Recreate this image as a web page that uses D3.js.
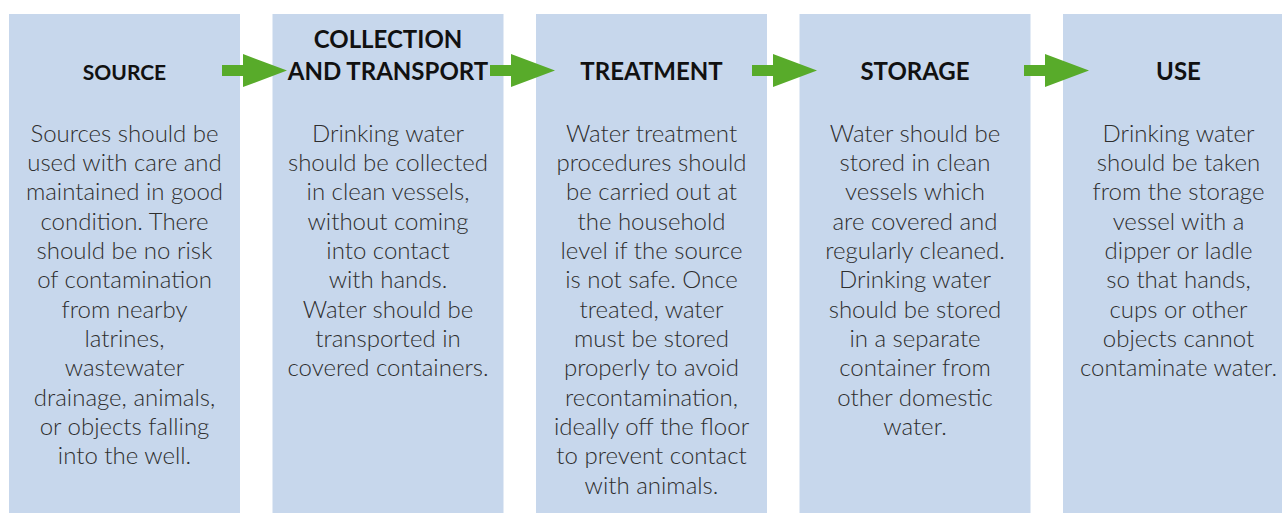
<!DOCTYPE html>
<html>
<head>
<meta charset="utf-8">
<script src="https://cdn.jsdelivr.net/npm/d3@7"></script>
<style>
  html, body { margin: 0; padding: 0; background: #ffffff; }
  svg { display: block; }
</style>
</head>
<body>
<svg id="chart" width="1282" height="513"></svg>
<script>
// ---- data ----
const steps = ["SOURCE", "COLLECTION AND TRANSPORT", "TREATMENT", "STORAGE", "USE"];
const titleLines = [
  ["SOURCE"],
  ["COLLECTION", "AND TRANSPORT"],
  ["TREATMENT"],
  ["STORAGE"],
  ["USE"]
];
const sourceText = ["Sources should be", "used with care and", "maintained in good", "condition. There",
  "should be no risk", "of contamination", "from nearby", "latrines,", "wastewater",
  "drainage, animals,", "or objects falling", "into the well."];
const collectionText = ["Drinking water", "should be collected", "in clean vessels,", "without coming",
  "into contact", "with hands.", "Water should be", "transported in", "covered containers."];
const treatmentText = ["Water treatment", "procedures should", "be carried out at", "the household",
  "level if the source", "is not safe. Once", "treated, water", "must be stored", "properly to avoid",
  "recontamination,", "ideally off the floor", "to prevent contact", "with animals."];
const storageText = ["Water should be", "stored in clean", "vessels which", "are covered and",
  "regularly cleaned.", "Drinking water", "should be stored", "in a separate", "container from",
  "other domestic", "water."];
const useText = ["Drinking water", "should be taken", "from the storage", "vessel with a",
  "dipper or ladle", "so that hands,", "cups or other", "objects cannot", "contaminate water."];
const bodyLines = [sourceText, collectionText, treatmentText, storageText, useText];

// ---- layout ----
const W = 1282, H = 513;
const boxTop = 14;
const x = d3.scaleBand().domain(steps).range([9, 1294]).paddingInner(32.5 / 263.5).paddingOuter(0);
const titleSizes = [21, 24, 24, 24, 24];
const arrowStarts = [222, 490, 752, 1024];
const arrowLen = 65, headStart = 21, shaftHalf = 5.5, headHalf = 16.5;

const svg = d3.select("#chart");

// boxes
svg.selectAll("rect.box").data(steps).join("rect")
  .attr("class", "box")
  .attr("x", d => x(d))
  .attr("y", boxTop)
  .attr("width", x.bandwidth())
  .attr("height", H - boxTop)
  .attr("fill", "#c7d7ec");

// titles
const titleG = svg.selectAll("g.title").data(steps).join("g")
  .attr("class", "title")
  .attr("transform", d => `translate(${x(d) + x.bandwidth() / 2},0)`);
titleG.each(function(d, i) {
  const lines = titleLines[i];
  const lastBase = 79.5;
  d3.select(this).selectAll("text").data(lines).join("text")
    .attr("x", 0)
    .attr("y", (l, j) => lastBase - (lines.length - 1 - j) * 31.5)
    .attr("text-anchor", "middle")
    .attr("font-family", "Lato, 'Open Sans', sans-serif")
    .attr("font-weight", 700)
    .attr("font-size", titleSizes[i])
    .attr("fill", "#111111")
    .text(l => l);
});

// body text
const bodyG = svg.selectAll("g.body").data(steps).join("g")
  .attr("class", "body")
  .attr("transform", d => `translate(${x(d) + x.bandwidth() / 2},0)`);
bodyG.each(function(d, i) {
  d3.select(this).selectAll("text").data(bodyLines[i]).join("text")
    .attr("x", 0)
    .attr("y", (l, j) => 141.8 + j * 29.33)
    .attr("text-anchor", "middle")
    .attr("font-family", "Lato, 'Open Sans', sans-serif")
    .attr("font-weight", 300)
    .attr("font-size", 24)
    .attr("fill", "#2e2e2e")
    .text(l => l);
});

// arrows
const cy = 70.5;
svg.selectAll("path.arrow").data(arrowStarts).join("path")
  .attr("class", "arrow")
  .attr("d", x0 => {
    const p = d3.path();
    p.moveTo(x0, cy - shaftHalf);
    p.lineTo(x0 + headStart, cy - shaftHalf);
    p.lineTo(x0 + headStart, cy - headHalf);
    p.lineTo(x0 + arrowLen, cy);
    p.lineTo(x0 + headStart, cy + headHalf);
    p.lineTo(x0 + headStart, cy + shaftHalf);
    p.lineTo(x0, cy + shaftHalf);
    p.closePath();
    return p.toString();
  })
  .attr("fill", "#58ab2a");
</script>
</body>
</html>
